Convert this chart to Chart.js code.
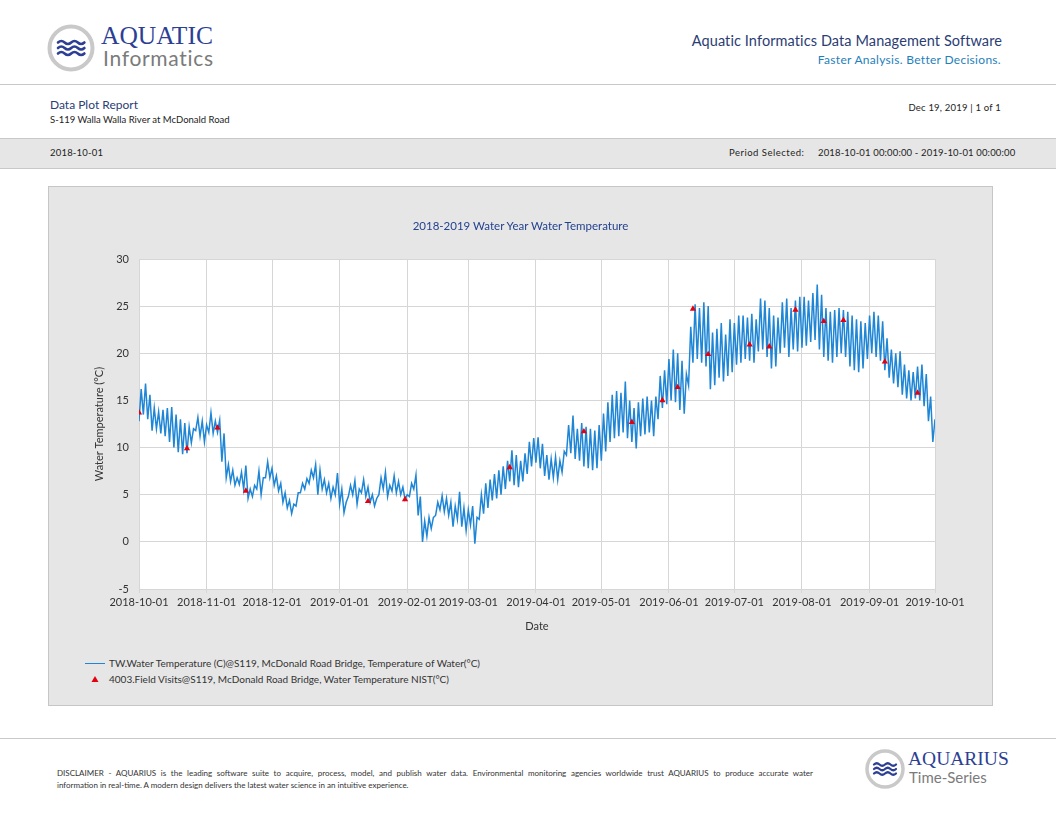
<!DOCTYPE html>
<html>
<head>
<meta charset="utf-8">
<title>Data Plot Report</title>
<script src="https://cdn.jsdelivr.net/npm/chart.js@4.4.0/dist/chart.umd.min.js"></script>
<style>
  html, body { margin: 0; padding: 0; background: #fff; }
  body { width: 1056px; height: 816px; position: relative; overflow: hidden;
         font-family: Lato, "Open Sans", sans-serif; color: #222; }
  .abs { position: absolute; white-space: nowrap; }
  .rule { position: absolute; left: 0; width: 1056px; height: 0; border-top: 1px solid #c8c8c8; }
  .navy { color: #2b3d74; }
  #band { position: absolute; left: 0; top: 138px; width: 1056px; height: 29px;
          background: #e6e6e6; border-top: 1px solid #c8c8c8; border-bottom: 1px solid #c8c8c8; }
  #panel { position: absolute; left: 48px; top: 186px; width: 943px; height: 518px;
           background: #e6e6e6; border: 1px solid #c6c6c6; }
  #chartBox { position: absolute; left: 0; top: 0; width: 943px; height: 452px; }
  #chartTitle { position: absolute; left: 0; width: 943px; top: 32px; text-align: center;
                font-size: 11.5px; color: #23428f; }
  .legendRow { position: absolute; left: 36px; font-size: 10px; color: #333; height: 14px; line-height: 14px; }
  .legendRow span.key { display: inline-block; width: 24px; position: relative; height: 14px; vertical-align: top; }
  #disclaimer { position: absolute; left: 57px; top: 767px; width: 756px; font-size: 8px; color: #333; line-height: 12px; }
  #disclaimer div { text-align: justify; text-align-last: justify; white-space: normal; }
  #disclaimer div.last { text-align-last: left; }
</style>
</head>
<body>

<!-- header -->
<svg class="abs" style="left:46px;top:23px" width="52" height="52" viewBox="0 0 52 52">
  <circle cx="25" cy="25" r="21.5" fill="#fff" stroke="#c9c9c9" stroke-width="4"/>
  <g fill="none" stroke="#2c3f95" stroke-width="2.6" stroke-linecap="round">
    <path d="M12 19.5 q3.3 -3 6.6 0 t6.6 0 t6.6 0 t6.6 0"/>
    <path d="M12 25 q3.3 -3 6.6 0 t6.6 0 t6.6 0 t6.6 0"/>
    <path d="M12 30.5 q3.3 -3 6.6 0 t6.6 0 t6.6 0 t6.6 0"/>
  </g>
</svg>
<div class="abs" style="left:101px;top:22px;font-family:'Liberation Serif',serif;font-size:25.5px;color:#2c3f95;line-height:28px;">AQUATIC</div>
<div class="abs" style="left:103px;top:45px;font-size:21px;color:#7b7b7b;line-height:25px;letter-spacing:0.7px;">Informatics</div>

<div class="abs navy" style="right:54px;top:32px;font-size:14.5px;line-height:18px;letter-spacing:0.1px;">Aquatic Informatics Data Management Software</div>
<div class="abs" style="right:55px;top:52px;font-size:12px;line-height:15px;color:#1f80bb;letter-spacing:0.3px;">Faster Analysis. Better Decisions.</div>

<div class="rule" style="top:84px"></div>

<div class="abs navy" style="left:50px;top:97px;font-size:12px;line-height:15px;">Data Plot Report</div>
<div class="abs" style="left:50px;top:113px;font-size:9.5px;line-height:13px;">S-119 Walla Walla River at McDonald Road</div>
<div class="abs" style="right:55px;top:101px;font-size:9.5px;line-height:13px;letter-spacing:0.2px;">Dec 19, 2019 | 1 of 1</div>

<div id="band"></div>
<div class="abs" style="left:50px;top:146px;font-size:9.5px;line-height:13px;letter-spacing:0.2px;">2018-10-01</div>
<div class="abs" style="left:729px;top:146px;font-size:9.5px;line-height:13px;letter-spacing:0.5px;">Period Selected:</div>
<div class="abs" style="left:818px;top:146px;font-size:9.5px;line-height:13px;letter-spacing:0.15px;">2018-10-01 00:00:00 - 2019-10-01 00:00:00</div>

<!-- chart panel -->
<div id="panel">
  <div id="chartBox"><canvas id="tempChart"></canvas></div>
  <div id="chartTitle">2018-2019 Water Year Water Temperature</div>
  <div class="legendRow" style="top:469px">
    <span class="key"><span style="position:absolute;left:0;top:7px;width:20px;height:1px;background:#1f86d6"></span></span>TW.Water Temperature (C)@S119, McDonald Road Bridge, Temperature of Water(°C)
  </div>
  <div class="legendRow" style="top:485px">
    <span class="key"><svg style="position:absolute;left:6px;top:3px" width="8" height="8"><polygon points="4,1 7.5,7 0.5,7" fill="#e3000f"/></svg></span>4003.Field Visits@S119, McDonald Road Bridge, Water Temperature NIST(°C)
  </div>
</div>

<!-- footer -->
<div class="rule" style="top:738px"></div>
<div id="disclaimer">
  <div>DISCLAIMER - AQUARIUS is the leading software suite to acquire, process, model, and publish water data. Environmental monitoring agencies worldwide trust AQUARIUS to produce accurate water</div>
  <div class="last">information in real-time. A modern design delivers the latest water science in an intuitive experience.</div>
</div>
<svg class="abs" style="left:863px;top:748px" width="44" height="44" viewBox="0 0 44 44">
  <circle cx="22" cy="21" r="18" fill="#fff" stroke="#c9c9c9" stroke-width="3.5"/>
  <g fill="none" stroke="#2c3f95" stroke-width="2.2" stroke-linecap="round">
    <path d="M11 16.5 q2.75 -2.5 5.5 0 t5.5 0 t5.5 0 t5.5 0"/>
    <path d="M11 21 q2.75 -2.5 5.5 0 t5.5 0 t5.5 0 t5.5 0"/>
    <path d="M11 25.5 q2.75 -2.5 5.5 0 t5.5 0 t5.5 0 t5.5 0"/>
  </g>
</svg>
<div class="abs" style="left:908px;top:748px;font-family:'Liberation Serif',serif;font-size:19.5px;color:#2c3f95;line-height:22px;">AQUARIUS</div>
<div class="abs" style="left:909px;top:767px;font-size:15px;color:#7b7b7b;line-height:20px;">Time-Series</div>

<script>
// --- DATA ---
// continuous record, one low/high pair per 2-day step starting at startDate
const startDate = '2018-10-01';
const stepDays = 2;

const tempLows = [
  12.8, 13.5, 13.0, 11.8, 12.0, 11.5, 11.2, 10.6, 10.0, 9.5, 9.3, 9.4, 10.5, 11.8, 11.2, 10.6,
  11.6, 11.5, 11.6, 8.5, 6.8, 6.4, 6.0, 6.1, 5.6, 4.6, 4.8, 5.6, 5.0, 6.8, 6.8,
  6.0, 5.4, 4.2, 3.6, 3.0, 3.8, 5.2, 5.6, 6.2, 6.8, 5.0, 5.6, 5.2, 4.6, 5.0,
  4.0, 3.1, 4.8, 5.0, 4.0, 5.2, 4.8, 4.2, 3.8, 5.0, 5.6, 4.8, 5.4, 5.2, 5.0, 4.5,
  4.8, 5.6, 2.8, 0.0, 0.6, 1.4, 2.8, 3.4, 3.2, 2.8, 1.6, 2.4, 1.6, 1.2,
  1.8, -0.2, 2.4, 3.0, 3.6, 4.4, 4.6, 5.0, 5.6, 6.4, 6.0, 5.8, 6.4, 7.2, 8.0,
  8.4, 7.8, 7.0, 6.6, 6.8, 6.6, 7.4, 9.2, 9.4, 8.8, 8.6, 8.0, 7.8, 7.6, 7.8,
  8.6, 9.6, 10.6, 11.0, 11.2, 11.6, 11.0, 10.6, 9.9, 11.2, 11.4, 11.6, 11.2, 13.0, 14.2, 14.6,
  15.0, 14.8, 14.0, 13.6, 16.6, 19.0, 19.4, 19.0, 18.6, 16.2, 16.6, 17.4, 17.0, 17.6, 18.0,
  18.8, 19.0, 19.4, 19.2, 19.0, 20.2, 20.4, 19.6, 18.4, 18.6, 20.0, 20.6, 19.6, 20.4, 20.2,
  20.6, 20.8, 21.2, 21.4, 20.4, 19.6, 19.2, 19.0, 19.6, 20.0, 19.6, 18.6, 18.2, 18.0, 18.4, 19.4,
  20.0, 19.6, 19.2, 18.2, 17.4, 16.8, 16.4, 15.6, 15.2, 15.0, 15.2, 15.0, 14.4, 12.8, 10.6
];

const tempHighs = [
  16.2, 16.8, 15.6, 14.2, 13.8, 14.0, 14.2, 14.3, 13.5, 13.0, 12.6, 12.2, 12.0, 13.2, 12.8, 12.4,
  13.7, 12.8, 12.9, 11.5, 8.2, 7.6, 6.8, 7.4, 8.1, 5.6, 6.0, 7.5, 6.8, 8.5, 7.8,
  7.0, 6.2, 5.2, 4.4, 4.0, 5.2, 6.2, 6.7, 7.6, 8.2, 7.6, 6.6, 6.2, 5.8, 7.3,
  5.6, 4.2, 6.0, 6.5, 5.6, 6.6, 5.8, 5.0, 4.6, 6.8, 7.4, 6.0, 7.0, 6.4, 5.8, 5.0,
  6.2, 7.1, 4.8, 2.2, 2.6, 2.6, 4.2, 4.9, 4.6, 4.2, 3.8, 5.3, 3.6, 3.4,
  3.8, 2.6, 5.0, 6.2, 6.6, 7.2, 7.6, 8.0, 8.6, 9.7, 9.2, 8.6, 9.4, 10.6, 11.0,
  11.1, 10.4, 9.2, 8.8, 9.0, 8.6, 9.6, 12.4, 13.4, 12.0, 12.6, 12.2, 12.0, 11.8, 12.4,
  13.6, 14.8, 15.6, 16.0, 15.8, 17.0, 15.0, 14.2, 14.8, 15.2, 15.4, 15.0, 15.4, 17.6, 18.2, 19.4,
  20.4, 20.0, 19.2, 17.8, 22.8, 25.2, 24.8, 25.4, 25.0, 22.2, 22.6, 23.2, 22.0, 23.6, 23.2,
  24.0, 24.0, 23.8, 24.2, 23.6, 25.8, 25.6, 24.8, 24.0, 23.8, 25.4, 25.8, 24.8, 25.6, 26.0,
  26.0, 25.6, 26.4, 27.3, 26.2, 24.8, 24.4, 24.6, 24.8, 24.6, 24.4, 24.0, 23.6, 23.4, 23.2, 24.0,
  24.4, 24.0, 23.4, 21.6, 20.4, 20.0, 20.2, 18.8, 18.2, 18.0, 18.6, 18.8, 17.8, 15.4, 13.0
];

// field visit readings
const visitDates = [
  '2018-10-01', '2018-10-23', '2018-11-06', '2018-11-19', '2019-01-14', '2019-01-31',
  '2019-03-20', '2019-04-23', '2019-05-15', '2019-05-29', '2019-06-05', '2019-06-12',
  '2019-06-19', '2019-07-08', '2019-07-17', '2019-07-29', '2019-08-11', '2019-08-20',
  '2019-09-08', '2019-09-23'
];
const visitTemps = [
  13.7, 9.9, 12.1, 5.4, 4.3, 4.5,
  7.9, 11.7, 12.7, 15.0, 16.4, 24.7,
  19.9, 20.9, 20.7, 24.6, 23.4, 23.5,
  19.1, 15.8
];

const monthTicks = [
  '2018-10-01', '2018-11-01', '2018-12-01', '2019-01-01', '2019-02-01', '2019-03-01', '2019-04-01',
  '2019-05-01', '2019-06-01', '2019-07-01', '2019-08-01', '2019-09-01', '2019-10-01'
];
const yMin = -5, yMax = 30, yStep = 5;

// days since the start of the period
const dayOf = s => (Date.parse(s) - Date.parse(startDate)) / 86400000;

const tempPoints = [];
tempLows.forEach((lo, i) => {
  tempPoints.push({ x: i * stepDays, y: lo });
  tempPoints.push({ x: i * stepDays + 1, y: tempHighs[i] });
});
const visitPoints = visitDates.map((d, i) => ({ x: dayOf(d), y: visitTemps[i] }));

// white plot area on the grey panel
const plotBackground = {
  id: 'plotBackground',
  beforeDraw(chart) {
    const { ctx, chartArea: a } = chart;
    ctx.save();
    ctx.fillStyle = '#ffffff';
    ctx.fillRect(a.left, a.top, a.width, a.height);
    ctx.restore();
  }
};

Chart.defaults.font.family = "Lato, 'Open Sans', sans-serif";
Chart.defaults.font.size = 11;
Chart.defaults.color = '#333333';

const gridColor = '#d6d6d6';

new Chart(document.getElementById('tempChart'), {
  type: 'line',
  data: {
    datasets: [{
      label: 'TW.Water Temperature (C)@S119, McDonald Road Bridge, Temperature of Water(°C)',
      data: tempPoints,
      borderColor: '#1f86d6',
      borderWidth: 1.5,
      pointRadius: 0,
      tension: 0,
      order: 2
    }, {
      label: '4003.Field Visits@S119, McDonald Road Bridge, Water Temperature NIST(°C)',
      data: visitPoints,
      showLine: false,
      pointStyle: 'triangle',
      pointRadius: 3.6,
      backgroundColor: '#e3000f',
      borderColor: '#e3000f',
      borderWidth: 0,
      order: 1
    }]
  },
  options: {
    responsive: true,
    maintainAspectRatio: false,
    animation: false,
    layout: { padding: { left: 40, right: 57, top: 72, bottom: 2 } },
    plugins: {
      legend: { display: false },
      tooltip: { enabled: false }
    },
    scales: {
      x: {
        type: 'linear',
        min: 0,
        max: dayOf(monthTicks[monthTicks.length - 1]),
        afterBuildTicks: scale => { scale.ticks = monthTicks.map(s => ({ value: dayOf(s) })); },
        afterFit: scale => { scale.height = 48; },
        ticks: {
          autoSkip: false,
          maxRotation: 0,
          padding: 3,
          callback: (value, index) => monthTicks[index]
        },
        grid: { color: gridColor, tickLength: 4 },
        border: { color: gridColor },
        title: { display: true, text: 'Date', font: { size: 11 } }
      },
      y: {
        min: yMin,
        max: yMax,
        afterFit: scale => { scale.width = 50; },
        ticks: { stepSize: yStep, padding: 10 },
        grid: { color: gridColor, drawTicks: false },
        border: { color: gridColor },
        title: { display: true, text: 'Water Temperature (°C)', font: { size: 11 } }
      }
    }
  },
  plugins: [plotBackground]
});
</script>
</body>
</html>
